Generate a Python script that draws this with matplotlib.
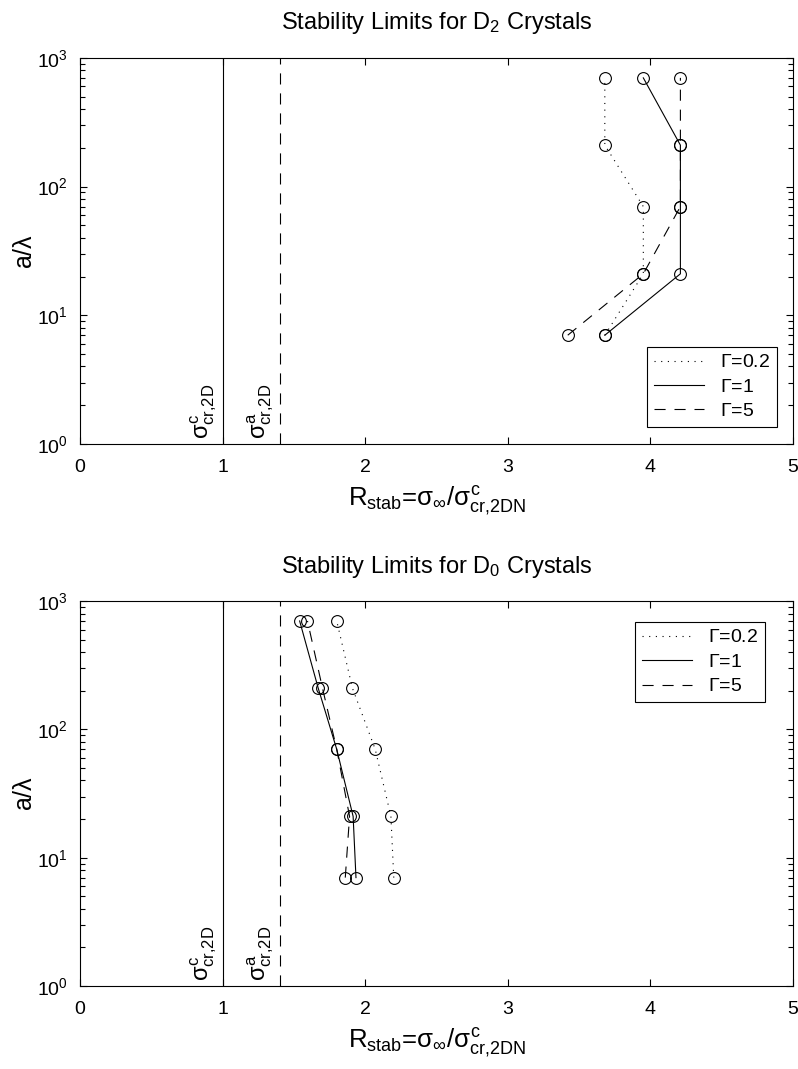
import matplotlib
matplotlib.use('Agg')
import matplotlib.pyplot as plt

plt.rcParams['font.family'] = ['Liberation Sans', 'DejaVu Sans']
plt.rcParams['mathtext.fontset'] = 'custom'
plt.rcParams['mathtext.rm'] = 'Liberation Sans'
plt.rcParams['mathtext.it'] = 'Liberation Sans'
plt.rcParams['mathtext.sf'] = 'Liberation Sans'
plt.rcParams['mathtext.bf'] = 'Liberation Sans:bold'

# a/lambda values used in the runs
a_lam = [7, 21, 70, 210, 700]

gamma_labels = [r'$\Gamma$=0.2', r'$\Gamma$=1', r'$\Gamma$=5']

# R_stab for D2 crystals
d2_g02 = [3.68, 3.95, 3.95, 3.68, 3.68]
d2_g1 = [3.68, 4.21, 4.21, 4.21, 3.95]
d2_g5 = [3.42, 3.95, 4.21, 4.21, 4.21]

# R_stab for D0 crystals
d0_g02 = [2.20, 2.18, 2.07, 1.91, 1.80]
d0_g1 = [1.935, 1.915, 1.80, 1.67, 1.54]
d0_g5 = [1.86, 1.89, 1.80, 1.70, 1.595]

# critical stresses (normalised)
sig_c = 1.0
sig_a = 1.4

styles = [(0, (1, 5)), '-', (0, (10, 8))]
lw = 0.8


def stab_panel(ax, series, title, legend_loc, legend_anchor):
    for xs, ls, lab in zip(series, styles, gamma_labels):
        ax.plot(xs, a_lam, color='k', lw=lw, linestyle=ls, label=lab)
        ax.plot(xs, a_lam, 'o', ms=8.5, mfc='none', mec='k', mew=lw)

    ax.axvline(sig_c, color='k', lw=lw)
    ax.axvline(sig_a, color='k', lw=lw, linestyle=(0, (10, 8)))
    ax.text(sig_c - 0.025, 1.1, r'$\sigma^c_{cr{,}2D}$', rotation=90,
            ha='right', va='bottom', fontsize=17)
    ax.text(sig_a - 0.025, 1.1, r'$\sigma^a_{cr{,}2D}$', rotation=90,
            ha='right', va='bottom', fontsize=17)

    ax.set_yscale('log')
    ax.set_xlim(0, 5)
    ax.set_ylim(1, 1000)
    ax.set_xticks([0, 1, 2, 3, 4, 5])
    ax.tick_params(which='both', direction='in', top=True, right=True,
                   labelsize=14, width=0.8)
    ax.tick_params(which='major', length=5)
    ax.tick_params(which='minor', length=3.5)
    ax.tick_params(axis='x', pad=11)
    ax.tick_params(axis='y', pad=9)
    for sp in ax.spines.values():
        sp.set_linewidth(0.8)

    ax.set_title(title, fontsize=17, pad=20.5)
    ax.set_xlabel(r'R$_{stab}$=$\sigma_\infty$/$\sigma^c_{cr{,}2DN}$',
                  fontsize=18.5, labelpad=6)
    ax.set_ylabel(r'a/$\lambda$', fontsize=18, labelpad=0)

    leg = ax.legend(loc=legend_loc, bbox_to_anchor=legend_anchor, fontsize=14,
                    fancybox=False, edgecolor='k', framealpha=1,
                    handlelength=2.6, labelspacing=0.35, borderaxespad=0,
                    borderpad=0.35, handletextpad=0.8)
    leg.get_frame().set_linewidth(0.8)


fig = plt.figure(figsize=(7.98, 10.69), dpi=100)
ax1 = fig.add_axes([0.1003, 0.5847, 0.8935, 0.3611])
ax2 = fig.add_axes([0.1003, 0.0776, 0.8935, 0.3601])

stab_panel(ax1, [d2_g02, d2_g1, d2_g5], r'Stability Limits for D$_2$ Crystals',
           'lower right', (0.9776, 0.044))
stab_panel(ax2, [d0_g02, d0_g1, d0_g5], r'Stability Limits for D$_0$ Crystals',
           'upper right', (0.9607, 0.9455))

fig.savefig('out.png', dpi=100)
